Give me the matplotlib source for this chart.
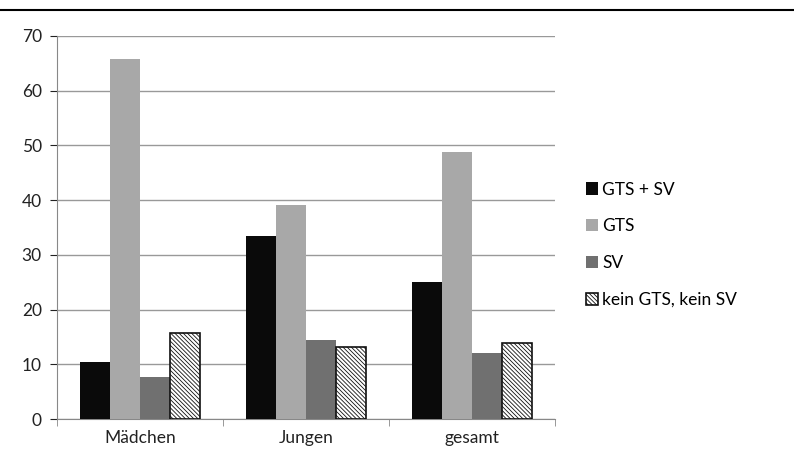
import matplotlib.pyplot as plt
import numpy as np
from matplotlib.lines import Line2D

plt.rcParams['font.family'] = ['Lato', 'DejaVu Sans']
plt.rcParams['hatch.linewidth'] = 0.6
plt.rcParams['hatch.color'] = '#333333'

categories = ['Mädchen', 'Jungen', 'gesamt']
series_names = ['GTS + SV', 'GTS', 'SV', 'kein GTS, kein SV']
gts_sv = [10.5, 33.5, 25.0]
gts = [65.7, 39.2, 48.7]
sv = [7.7, 14.4, 12.1]
kein = [15.8, 13.1, 13.9]
y_ticks = [0, 10, 20, 30, 40, 50, 60, 70]

fig = plt.figure(figsize=(7.94, 4.72), dpi=100)
ax = fig.add_axes([0.072, 0.112, 0.627, 0.812])

x = np.arange(len(categories))
w = 0.18
styles = [
    dict(color='#0a0a0a'),
    dict(color='#a8a8a8'),
    dict(color='#707070'),
    dict(facecolor='white', edgecolor='#111111', hatch='\\\\\\\\\\\\\\\\', linewidth=1.2),
]
for i, (vals, st) in enumerate(zip([gts_sv, gts, sv, kein], styles)):
    ax.bar(x + (i - 1.5) * w, vals, w, label=series_names[i], zorder=3, **st)

ax.set_xlim(-0.5, 2.5)
ax.set_ylim(0, 70)
ax.set_yticks(y_ticks)
ax.set_xticks(x)
ax.set_xticklabels(categories)
ax.set_xticks([-0.5, 0.5, 1.5, 2.5], minor=True)
ax.tick_params(axis='x', which='major', length=0, pad=8)
ax.tick_params(axis='x', which='minor', length=5, color='#888888')
ax.tick_params(axis='y', length=5, color='#888888', pad=6)
ax.tick_params(labelsize=12.5, colors='#222222')
ax.grid(axis='y', color='#999999', linewidth=1, zorder=0)
for s in ['top', 'right']:
    ax.spines[s].set_visible(False)
ax.spines['left'].set_color('#888888')
ax.spines['bottom'].set_color('#888888')

ax.legend(loc='center left', bbox_to_anchor=(1.03, 0.455), frameon=False,
          fontsize=12.5, handlelength=0.7, handleheight=0.7, handletextpad=0.25,
          labelspacing=1.2)

fig.add_artist(Line2D([0, 1], [0.978, 0.978], color='black', linewidth=1.5))

fig.savefig('out.png', dpi=100)
